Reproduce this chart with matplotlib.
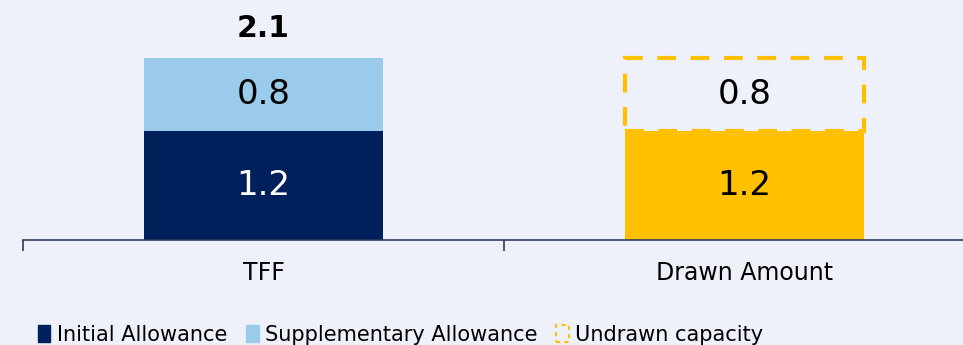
import matplotlib
matplotlib.use("Agg")
import matplotlib.pyplot as plt
from matplotlib.patches import Patch
import numpy as np

categories = ["TFF", "Drawn Amount"]
initial = [1.2, 0.0]
supplementary = [0.8, 0.0]
drawn = [0.0, 1.2]
undrawn = [0.0, 0.8]
total_labels = ["2.1", ""]

navy = "#00205B"
light = "#9BCBEB"
gold = "#FFC000"
bg = "#EEF1F9"

fig = plt.figure(figsize=(9.63, 3.45), dpi=100, facecolor=bg)
ax = fig.add_axes([23/963, 105/345, 962/963, 240/345], facecolor=bg)

x = np.arange(len(categories))
w = 0.495

# TFF stack
ax.bar(x[0], initial[0], width=w, color=navy)
ax.bar(x[0], supplementary[0], width=w, bottom=initial[0], color=light)
ax.text(x[0], initial[0] / 2, f"{initial[0]:.1f}", ha="center", va="center", color="white", fontsize=24.5)
ax.text(x[0], initial[0] + supplementary[0] / 2, f"{supplementary[0]:.1f}", ha="center", va="center", color="black", fontsize=24.5)
ax.text(x[0], initial[0] + supplementary[0] + 0.17, total_labels[0], ha="center", va="bottom", color="black", fontsize=21.5, fontweight="bold")

# Drawn amount
ax.bar(x[1], drawn[1], width=w, color=gold)
ax.bar(x[1], undrawn[1], width=w, bottom=drawn[1], facecolor="none", edgecolor=gold, linewidth=3, linestyle=(0, (4.5, 3.5)))
ax.text(x[1], drawn[1] / 2, f"{drawn[1]:.1f}", ha="center", va="center", color="black", fontsize=24.5)
ax.text(x[1], drawn[1] + undrawn[1] / 2, f"{undrawn[1]:.1f}", ha="center", va="center", color="black", fontsize=24.5)

ax.set_xlim(-0.5, 1.5)
ax.set_ylim(0, 2.64)
for s in ["left", "right", "top"]:
    ax.spines[s].set_visible(False)
ax.spines["bottom"].set_color("#2E3B5B")
ax.spines["bottom"].set_linewidth(1.2)
ax.set_yticks([])
ax.set_xticks(x)
ax.set_xticklabels(categories, fontsize=17)
ax.tick_params(axis="x", which="major", length=0, pad=15)
ax.set_xticks([-0.5, 0.5, 1.5], minor=True)
ax.tick_params(axis="x", which="minor", length=8, width=1.2, color="#2E3B5B", direction="out")

handles = [
    Patch(facecolor=navy, edgecolor=navy, label="Initial Allowance"),
    Patch(facecolor=light, edgecolor=light, label="Supplementary Allowance"),
    Patch(facecolor="none", edgecolor=gold, linestyle=(0, (2, 2)), linewidth=1.5, label="Undrawn capacity"),
]
fig.legend(handles=handles, loc="center left", bbox_to_anchor=(0.039, 0.03), ncol=3, frameon=False,
           fontsize=15, handlelength=0.62, handleheight=0.85, handletextpad=0.3, columnspacing=0.9,
           borderaxespad=0, borderpad=0)

fig.savefig("out.png", dpi=100, facecolor=bg)
